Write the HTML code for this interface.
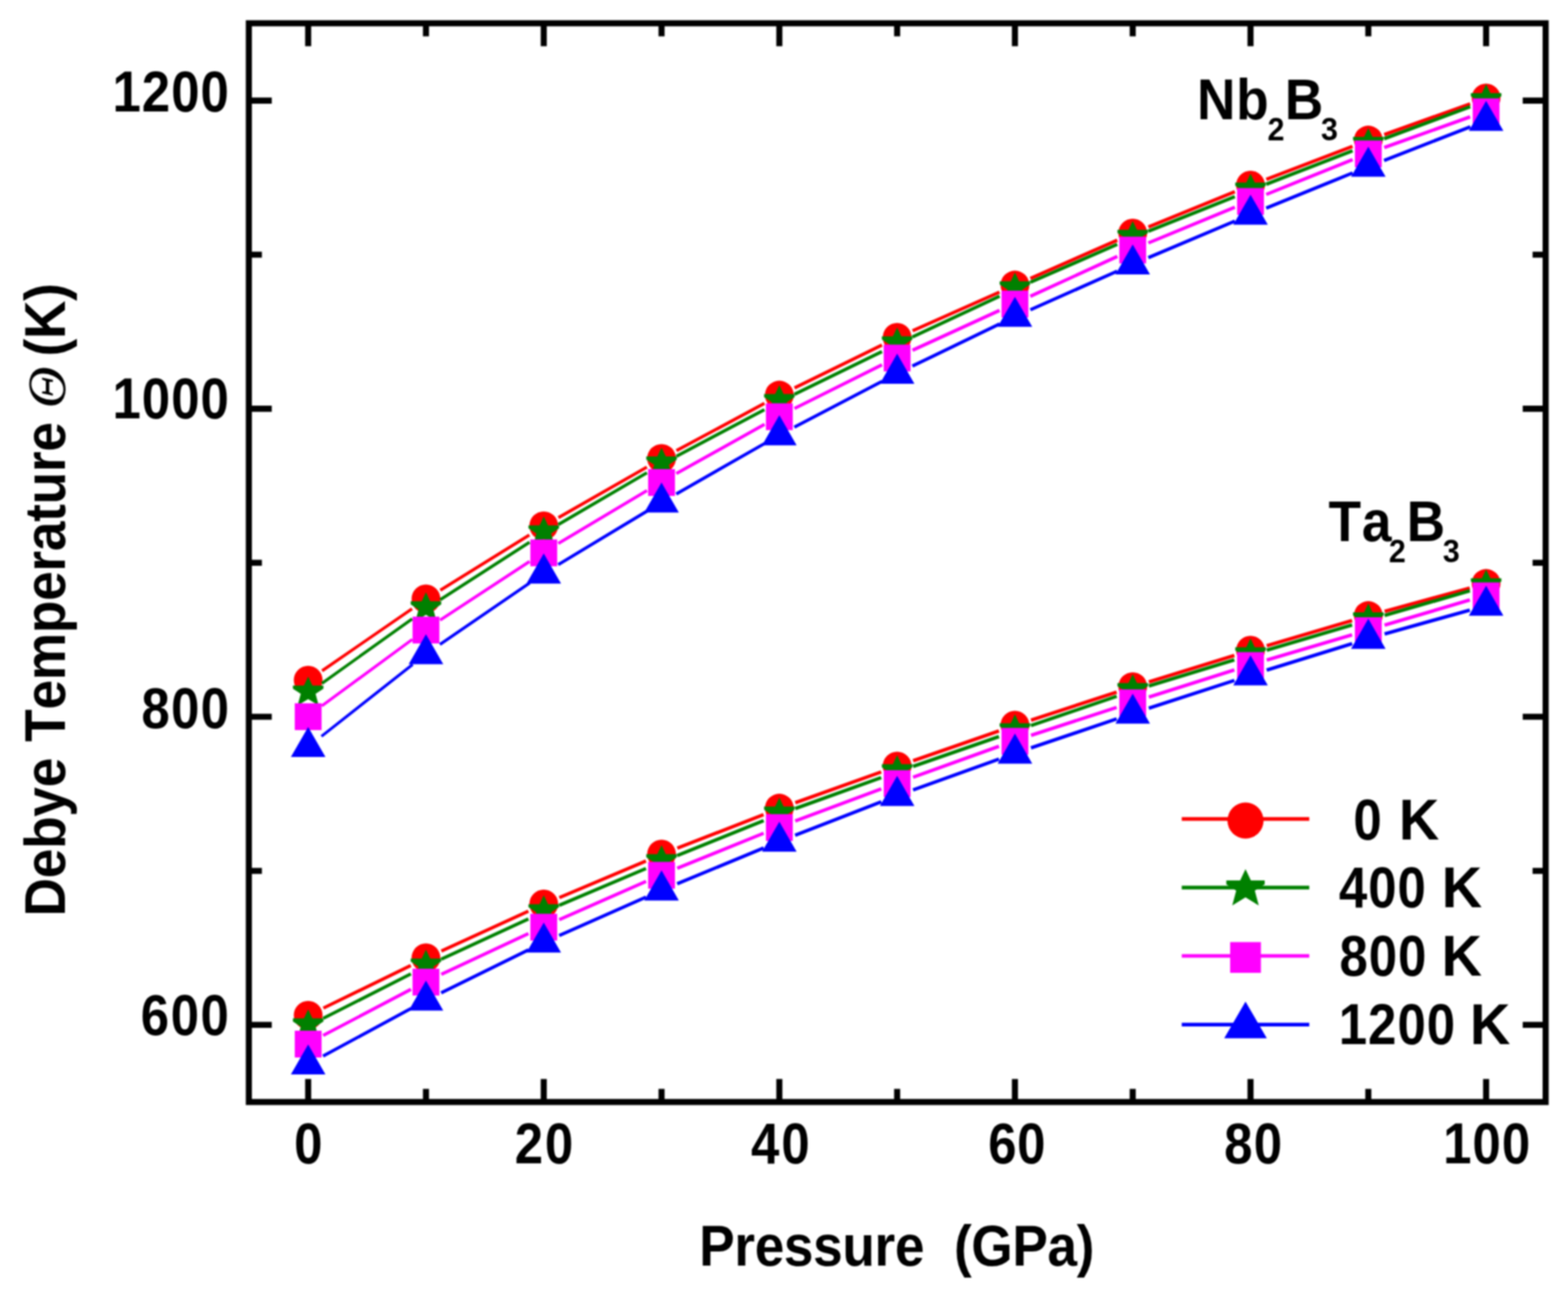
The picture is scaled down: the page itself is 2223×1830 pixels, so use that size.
<!DOCTYPE html>
<html lang="en">
<head>
<meta charset="utf-8">
<title>Debye temperature vs pressure</title>
<style>
html,body{margin:0;padding:0;background:#fff;}
body{width:2223px;height:1830px;overflow:hidden;}
svg{display:block;filter:blur(0.8px);}
</style>
</head>
<body>
<svg xmlns="http://www.w3.org/2000/svg" width="2223" height="1830" viewBox="0 0 2223 1830">
<rect width="2223" height="1830" fill="#fff"/>
<g id="plot-nb">
<g stroke="#ff0000" fill="none"><path d="M456.66 950.87L584.14 862.93" stroke-width="4.28"/><path d="M624.29 836.65L750.51 758.35" stroke-width="4.42"/><path d="M791.73 733.79L917.07 662.11" stroke-width="4.51"/><path d="M959.04 638.83L1083.76 571.77" stroke-width="4.58"/><path d="M1126.45 549.84L1250.35 489.16" stroke-width="4.67"/><path d="M1293.83 468.86L1416.97 414.14" stroke-width="4.75"/><path d="M1460.86 394.72L1583.94 340.48" stroke-width="4.76"/><path d="M1628.13 321.75L1750.67 271.85" stroke-width="4.82"/><path d="M1795.32 254.22L1917.48 207.48" stroke-width="4.86"/><path d="M1962.5 190.82L2084.3 147.28" stroke-width="4.9"/></g>
<circle cx="436.9" cy="964.1" r="20.4" fill="#ff0000"/>
<circle cx="603.9" cy="848.9" r="20.4" fill="#ff0000"/>
<circle cx="770.9" cy="745.3" r="20.4" fill="#ff0000"/>
<circle cx="937.9" cy="649.8" r="20.4" fill="#ff0000"/>
<circle cx="1104.9" cy="560" r="20.4" fill="#ff0000"/>
<circle cx="1271.9" cy="478.2" r="20.4" fill="#ff0000"/>
<circle cx="1438.9" cy="404" r="20.4" fill="#ff0000"/>
<circle cx="1605.9" cy="330.4" r="20.4" fill="#ff0000"/>
<circle cx="1772.9" cy="262.4" r="20.4" fill="#ff0000"/>
<circle cx="1939.9" cy="198.5" r="20.4" fill="#ff0000"/>
<circle cx="2106.9" cy="138.8" r="20.4" fill="#ff0000"/>
<g stroke="#ff0000" fill="none"><path d="M458.47 1428.98L582.33 1368.62" stroke-width="4.67"/><path d="M625.72 1348.12L749.08 1291.68" stroke-width="4.73"/><path d="M793.01 1272.35L915.79 1220.45" stroke-width="4.79"/><path d="M960.26 1202.37L1082.54 1154.63" stroke-width="4.84"/><path d="M1127.5 1137.82L1249.3 1094.28" stroke-width="4.9"/><path d="M1294.58 1078.34L1416.22 1036.16" stroke-width="4.91"/><path d="M1461.71 1020.84L1583.09 981.16" stroke-width="4.94"/><path d="M1628.83 966.61L1749.97 929.19" stroke-width="4.97"/><path d="M1795.92 915.32L1916.88 879.68" stroke-width="4.99"/><path d="M1963.06 866.59L2083.74 833.71" stroke-width="5.02"/></g>
<circle cx="436.9" cy="1439.1" r="20.4" fill="#ff0000"/>
<circle cx="603.9" cy="1357.7" r="20.4" fill="#ff0000"/>
<circle cx="770.9" cy="1281.3" r="20.4" fill="#ff0000"/>
<circle cx="937.9" cy="1210.7" r="20.4" fill="#ff0000"/>
<circle cx="1104.9" cy="1145.5" r="20.4" fill="#ff0000"/>
<circle cx="1271.9" cy="1085.8" r="20.4" fill="#ff0000"/>
<circle cx="1438.9" cy="1027.9" r="20.4" fill="#ff0000"/>
<circle cx="1605.9" cy="973.3" r="20.4" fill="#ff0000"/>
<circle cx="1772.9" cy="921.7" r="20.4" fill="#ff0000"/>
<circle cx="1939.9" cy="872.5" r="20.4" fill="#ff0000"/>
<circle cx="2106.9" cy="827" r="20.4" fill="#ff0000"/>
<g stroke="#008000" fill="none"><path d="M456.42 968.73L584.38 877.17" stroke-width="4.23"/><path d="M624.07 850.2L750.73 768.6" stroke-width="4.37"/><path d="M791.62 743.49L917.18 670.11" stroke-width="4.49"/><path d="M959.11 646.76L1083.69 580.74" stroke-width="4.59"/><path d="M1126.46 558.95L1250.34 498.35" stroke-width="4.67"/><path d="M1293.65 477.64L1417.15 419.96" stroke-width="4.71"/><path d="M1460.89 400.19L1583.91 346.41" stroke-width="4.76"/><path d="M1628.17 327.86L1750.63 278.74" stroke-width="4.83"/><path d="M1795.27 261.12L1917.53 213.68" stroke-width="4.85"/><path d="M1962.4 196.64L2084.4 151.26" stroke-width="4.87"/></g>
<polygon points="436.9,959.1 442.94,971.74 458.52,971.74 458.52,976.19 447.39,983.43 451.85,1000.12 436.9,990.98 421.95,1000.12 426.41,983.43 415.28,976.19 415.28,971.74 430.86,971.74" fill="#008000"/>
<polygon points="603.9,839.6 609.94,852.24 625.52,852.24 625.52,856.69 614.39,863.93 618.85,880.62 603.9,871.48 588.95,880.62 593.41,863.93 582.28,856.69 582.28,852.24 597.86,852.24" fill="#008000"/>
<polygon points="770.9,732 776.94,744.64 792.52,744.64 792.52,749.09 781.39,756.33 785.85,773.02 770.9,763.88 755.95,773.02 760.41,756.33 749.28,749.09 749.28,744.64 764.86,744.64" fill="#008000"/>
<polygon points="937.9,634.4 943.94,647.04 959.52,647.04 959.52,651.49 948.39,658.73 952.85,675.42 937.9,666.28 922.95,675.42 927.41,658.73 916.28,651.49 916.28,647.04 931.86,647.04" fill="#008000"/>
<polygon points="1104.9,545.9 1110.94,558.54 1126.52,558.54 1126.52,562.99 1115.39,570.23 1119.85,586.92 1104.9,577.78 1089.95,586.92 1094.41,570.23 1083.28,562.99 1083.28,558.54 1098.86,558.54" fill="#008000"/>
<polygon points="1271.9,464.2 1277.94,476.84 1293.52,476.84 1293.52,481.29 1282.39,488.53 1286.85,505.22 1271.9,496.08 1256.95,505.22 1261.41,488.53 1250.28,481.29 1250.28,476.84 1265.86,476.84" fill="#008000"/>
<polygon points="1438.9,386.2 1444.94,398.84 1460.52,398.84 1460.52,403.29 1449.39,410.53 1453.85,427.22 1438.9,418.08 1423.95,427.22 1428.41,410.53 1417.28,403.29 1417.28,398.84 1432.86,398.84" fill="#008000"/>
<polygon points="1605.9,313.2 1611.94,325.84 1627.52,325.84 1627.52,330.29 1616.39,337.53 1620.85,354.22 1605.9,345.08 1590.95,354.22 1595.41,337.53 1584.28,330.29 1584.28,325.84 1599.86,325.84" fill="#008000"/>
<polygon points="1772.9,246.2 1778.94,258.84 1794.52,258.84 1794.52,263.29 1783.39,270.53 1787.85,287.22 1772.9,278.08 1757.95,287.22 1762.41,270.53 1751.28,263.29 1751.28,258.84 1766.86,258.84" fill="#008000"/>
<polygon points="1939.9,181.4 1945.94,194.04 1961.52,194.04 1961.52,198.49 1950.39,205.73 1954.85,222.42 1939.9,213.28 1924.95,222.42 1929.41,205.73 1918.28,198.49 1918.28,194.04 1933.86,194.04" fill="#008000"/>
<polygon points="2106.9,119.3 2112.94,131.94 2128.52,131.94 2128.52,136.39 2117.39,143.63 2121.85,160.32 2106.9,151.18 2091.95,160.32 2096.41,143.63 2085.28,136.39 2085.28,131.94 2100.86,131.94" fill="#008000"/>
<g stroke="#008000" fill="none"><path d="M458.3 1443.53L582.5 1380.47" stroke-width="4.64"/><path d="M625.69 1359.55L749.11 1302.65" stroke-width="4.72"/><path d="M792.99 1283.22L915.81 1231.08" stroke-width="4.79"/><path d="M960.15 1212.71L1082.65 1163.19" stroke-width="4.82"/><path d="M1127.49 1146.09L1249.31 1102.31" stroke-width="4.89"/><path d="M1294.57 1086.33L1416.23 1044.07" stroke-width="4.91"/><path d="M1461.62 1028.46L1583.18 987.04" stroke-width="4.92"/><path d="M1628.86 972.3L1749.94 935.4" stroke-width="4.97"/><path d="M1795.91 921.59L1916.89 885.81" stroke-width="4.99"/><path d="M1962.96 872.34L2083.84 837.46" stroke-width="5"/></g>
<polygon points="436.9,1430.8 442.94,1443.44 458.52,1443.44 458.52,1447.89 447.39,1455.13 451.85,1471.82 436.9,1462.68 421.95,1471.82 426.41,1455.13 415.28,1447.89 415.28,1443.44 430.86,1443.44" fill="#008000"/>
<polygon points="603.9,1346 609.94,1358.64 625.52,1358.64 625.52,1363.09 614.39,1370.33 618.85,1387.02 603.9,1377.88 588.95,1387.02 593.41,1370.33 582.28,1363.09 582.28,1358.64 597.86,1358.64" fill="#008000"/>
<polygon points="770.9,1269 776.94,1281.64 792.52,1281.64 792.52,1286.09 781.39,1293.33 785.85,1310.02 770.9,1300.88 755.95,1310.02 760.41,1293.33 749.28,1286.09 749.28,1281.64 764.86,1281.64" fill="#008000"/>
<polygon points="937.9,1198.1 943.94,1210.74 959.52,1210.74 959.52,1215.19 948.39,1222.43 952.85,1239.12 937.9,1229.98 922.95,1239.12 927.41,1222.43 916.28,1215.19 916.28,1210.74 931.86,1210.74" fill="#008000"/>
<polygon points="1104.9,1130.6 1110.94,1143.24 1126.52,1143.24 1126.52,1147.69 1115.39,1154.93 1119.85,1171.62 1104.9,1162.48 1089.95,1171.62 1094.41,1154.93 1083.28,1147.69 1083.28,1143.24 1098.86,1143.24" fill="#008000"/>
<polygon points="1271.9,1070.6 1277.94,1083.24 1293.52,1083.24 1293.52,1087.69 1282.39,1094.93 1286.85,1111.62 1271.9,1102.48 1256.95,1111.62 1261.41,1094.93 1250.28,1087.69 1250.28,1083.24 1265.86,1083.24" fill="#008000"/>
<polygon points="1438.9,1012.6 1444.94,1025.24 1460.52,1025.24 1460.52,1029.69 1449.39,1036.93 1453.85,1053.62 1438.9,1044.48 1423.95,1053.62 1428.41,1036.93 1417.28,1029.69 1417.28,1025.24 1432.86,1025.24" fill="#008000"/>
<polygon points="1605.9,955.7 1611.94,968.34 1627.52,968.34 1627.52,972.79 1616.39,980.03 1620.85,996.72 1605.9,987.58 1590.95,996.72 1595.41,980.03 1584.28,972.79 1584.28,968.34 1599.86,968.34" fill="#008000"/>
<polygon points="1772.9,904.8 1778.94,917.44 1794.52,917.44 1794.52,921.89 1783.39,929.13 1787.85,945.82 1772.9,936.68 1757.95,945.82 1762.41,929.13 1751.28,921.89 1751.28,917.44 1766.86,917.44" fill="#008000"/>
<polygon points="1939.9,855.4 1945.94,868.04 1961.52,868.04 1961.52,872.49 1950.39,879.73 1954.85,896.42 1939.9,887.28 1924.95,896.42 1929.41,879.73 1918.28,872.49 1918.28,868.04 1933.86,868.04" fill="#008000"/>
<polygon points="2106.9,807.2 2112.94,819.84 2128.52,819.84 2128.52,824.29 2117.39,831.53 2121.85,848.22 2106.9,839.08 2091.95,848.22 2096.41,831.53 2085.28,824.29 2085.28,819.84 2100.86,819.84" fill="#008000"/>
<g stroke="#ff00ff" fill="none"><path d="M456.24 1000.68L584.56 906.32" stroke-width="4.19"/><path d="M623.98 878.95L750.82 795.85" stroke-width="4.35"/><path d="M791.51 770.4L917.29 695.3" stroke-width="4.46"/><path d="M958.85 671.29L1083.95 601.41" stroke-width="4.54"/><path d="M1126.38 579L1250.42 517.2" stroke-width="4.65"/><path d="M1293.72 496.5L1417.08 440" stroke-width="4.73"/><path d="M1460.72 420L1584.08 363.5" stroke-width="4.73"/><path d="M1628.09 344.35L1750.71 293.75" stroke-width="4.81"/><path d="M1795.16 275.62L1917.64 226.18" stroke-width="4.82"/><path d="M1962.5 209.12L2084.3 165.58" stroke-width="4.9"/></g>
<rect x="417.9" y="996.9" width="38" height="38" fill="#ff00ff"/>
<rect x="584.9" y="874.1" width="38" height="38" fill="#ff00ff"/>
<rect x="751.9" y="764.7" width="38" height="38" fill="#ff00ff"/>
<rect x="918.9" y="665" width="38" height="38" fill="#ff00ff"/>
<rect x="1085.9" y="571.7" width="38" height="38" fill="#ff00ff"/>
<rect x="1252.9" y="488.5" width="38" height="38" fill="#ff00ff"/>
<rect x="1419.9" y="412" width="38" height="38" fill="#ff00ff"/>
<rect x="1586.9" y="335.5" width="38" height="38" fill="#ff00ff"/>
<rect x="1753.9" y="266.6" width="38" height="38" fill="#ff00ff"/>
<rect x="1920.9" y="199.2" width="38" height="38" fill="#ff00ff"/>
<rect x="2087.9" y="139.5" width="38" height="38" fill="#ff00ff"/>
<g stroke="#ff00ff" fill="none"><path d="M458.14 1467.83L582.66 1402.37" stroke-width="4.6"/><path d="M625.65 1381.05L749.15 1323.45" stroke-width="4.71"/><path d="M792.86 1303.62L915.94 1249.38" stroke-width="4.76"/><path d="M960.15 1230.69L1082.65 1181.11" stroke-width="4.82"/><path d="M1127.39 1163.71L1249.41 1118.19" stroke-width="4.87"/><path d="M1294.49 1101.69L1416.31 1057.91" stroke-width="4.89"/><path d="M1461.72 1042.35L1583.08 1002.75" stroke-width="4.94"/><path d="M1628.78 988.05L1750.02 949.65" stroke-width="4.96"/><path d="M1795.91 935.59L1916.89 899.81" stroke-width="4.99"/><path d="M1962.91 886.19L2083.89 850.41" stroke-width="4.99"/></g>
<rect x="417.9" y="1461" width="38" height="38" fill="#ff00ff"/>
<rect x="584.9" y="1373.2" width="38" height="38" fill="#ff00ff"/>
<rect x="751.9" y="1295.3" width="38" height="38" fill="#ff00ff"/>
<rect x="918.9" y="1221.7" width="38" height="38" fill="#ff00ff"/>
<rect x="1085.9" y="1154.1" width="38" height="38" fill="#ff00ff"/>
<rect x="1252.9" y="1091.8" width="38" height="38" fill="#ff00ff"/>
<rect x="1419.9" y="1031.8" width="38" height="38" fill="#ff00ff"/>
<rect x="1586.9" y="977.3" width="38" height="38" fill="#ff00ff"/>
<rect x="1753.9" y="924.4" width="38" height="38" fill="#ff00ff"/>
<rect x="1920.9" y="875" width="38" height="38" fill="#ff00ff"/>
<rect x="2087.9" y="825.6" width="38" height="38" fill="#ff00ff"/>
<g stroke="#0000ff" fill="none"><path d="M455.75 1043.75L585.05 941.85" stroke-width="4.08"/><path d="M623.71 913.44L751.09 826.26" stroke-width="4.29"/><path d="M791.46 800.32L917.34 724.48" stroke-width="4.45"/><path d="M958.74 700.2L1084.06 628.6" stroke-width="4.52"/><path d="M1126.17 605.58L1250.63 540.52" stroke-width="4.61"/><path d="M1293.51 518.97L1417.29 459.23" stroke-width="4.68"/><path d="M1460.83 439.06L1583.97 384.34" stroke-width="4.75"/><path d="M1628.01 365.25L1750.79 313.35" stroke-width="4.79"/><path d="M1795.13 294.96L1917.67 245.14" stroke-width="4.82"/><path d="M1962.26 227.38L2084.54 179.72" stroke-width="4.84"/></g>
<polygon points="412.4,1073.1 461.4,1073.1 436.9,1030.5" fill="#0000ff"/>
<polygon points="579.4,941.5 628.4,941.5 603.9,898.9" fill="#0000ff"/>
<polygon points="746.4,827.2 795.4,827.2 770.9,784.6" fill="#0000ff"/>
<polygon points="913.4,726.6 962.4,726.6 937.9,684" fill="#0000ff"/>
<polygon points="1080.4,631.2 1129.4,631.2 1104.9,588.6" fill="#0000ff"/>
<polygon points="1247.4,543.9 1296.4,543.9 1271.9,501.3" fill="#0000ff"/>
<polygon points="1414.4,463.3 1463.4,463.3 1438.9,420.7" fill="#0000ff"/>
<polygon points="1581.4,389.1 1630.4,389.1 1605.9,346.5" fill="#0000ff"/>
<polygon points="1748.4,318.5 1797.4,318.5 1772.9,275.9" fill="#0000ff"/>
<polygon points="1915.4,250.6 1964.4,250.6 1939.9,208" fill="#0000ff"/>
<polygon points="2082.4,185.5 2131.4,185.5 2106.9,142.9" fill="#0000ff"/>
<g stroke="#0000ff" fill="none"><path d="M458 1497.07L582.8 1429.43" stroke-width="4.57"/><path d="M625.43 1407.4L749.37 1346.4" stroke-width="4.67"/><path d="M792.85 1326.09L915.95 1271.61" stroke-width="4.76"/><path d="M960.08 1252.72L1082.72 1201.98" stroke-width="4.8"/><path d="M1127.27 1184.11L1249.53 1136.59" stroke-width="4.85"/><path d="M1294.49 1119.79L1416.31 1076.01" stroke-width="4.89"/><path d="M1461.63 1060.2L1583.17 1019" stroke-width="4.92"/><path d="M1628.73 1003.89L1750.07 964.51" stroke-width="4.95"/><path d="M1795.82 949.98L1916.98 912.32" stroke-width="4.97"/><path d="M1963.01 898.71L2083.79 864.79" stroke-width="5.01"/></g>
<polygon points="412.4,1523 461.4,1523 436.9,1480.4" fill="#0000ff"/>
<polygon points="579.4,1432.5 628.4,1432.5 603.9,1389.9" fill="#0000ff"/>
<polygon points="746.4,1350.3 795.4,1350.3 770.9,1307.7" fill="#0000ff"/>
<polygon points="913.4,1276.4 962.4,1276.4 937.9,1233.8" fill="#0000ff"/>
<polygon points="1080.4,1207.3 1129.4,1207.3 1104.9,1164.7" fill="#0000ff"/>
<polygon points="1247.4,1142.4 1296.4,1142.4 1271.9,1099.8" fill="#0000ff"/>
<polygon points="1414.4,1082.4 1463.4,1082.4 1438.9,1039.8" fill="#0000ff"/>
<polygon points="1581.4,1025.8 1630.4,1025.8 1605.9,983.2" fill="#0000ff"/>
<polygon points="1748.4,971.6 1797.4,971.6 1772.9,929" fill="#0000ff"/>
<polygon points="1915.4,919.7 1964.4,919.7 1939.9,877.1" fill="#0000ff"/>
<polygon points="2082.4,872.8 2131.4,872.8 2106.9,830.2" fill="#0000ff"/>
</g>
<g stroke="#000" stroke-width="8.6" fill="none">
<rect x="352.8" y="33" width="1838.5" height="1529.1"/>
<path d="M436.9 33V65.5M436.9 1562.1V1529.6M603.9 33V51.5M603.9 1562.1V1543.6M770.9 33V65.5M770.9 1562.1V1529.6M937.9 33V51.5M937.9 1562.1V1543.6M1104.9 33V65.5M1104.9 1562.1V1529.6M1271.9 33V51.5M1271.9 1562.1V1543.6M1438.9 33V65.5M1438.9 1562.1V1529.6M1605.9 33V51.5M1605.9 1562.1V1543.6M1772.9 33V65.5M1772.9 1562.1V1529.6M1939.9 33V51.5M1939.9 1562.1V1543.6M2106.9 33V65.5M2106.9 1562.1V1529.6M352.8 1452.8H385.3M2191.3 1452.8H2158.8M352.8 1234.43H371.3M2191.3 1234.43H2172.8M352.8 1016.07H385.3M2191.3 1016.07H2158.8M352.8 797.7H371.3M2191.3 797.7H2172.8M352.8 579.33H385.3M2191.3 579.33H2158.8M352.8 360.97H371.3M2191.3 360.97H2172.8M352.8 142.6H385.3M2191.3 142.6H2158.8" stroke-width="8.6"/>
</g>
<g id="legend">
<path d="M1675.4 1160.8H1856.2" stroke="#ff0000" stroke-width="5.2"/>
<circle cx="1765.8" cy="1163.2" r="25.6" fill="#ff0000"/>
<path d="M1675.4 1258.2H1856.2" stroke="#008000" stroke-width="5.2"/>
<polygon points="1765.8,1232 1773.4,1247.9 1793,1247.9 1793,1253.5 1779,1262.6 1784.6,1283.6 1765.8,1272.1 1747,1283.6 1752.6,1262.6 1738.6,1253.5 1738.6,1247.9 1758.2,1247.9" fill="#008000"/>
<path d="M1675.4 1355H1856.2" stroke="#ff00ff" stroke-width="5.2"/>
<rect x="1744" y="1335.4" width="43.6" height="43.6" fill="#ff00ff"/>
<path d="M1675.4 1452.4H1856.2" stroke="#0000ff" stroke-width="5.2"/>
<polygon points="1735.6,1471.7 1796,1471.7 1765.8,1419.7" fill="#0000ff"/>
</g>
<g id="labels" font-family="'Liberation Sans',Arial,Helvetica,sans-serif" font-weight="bold" fill="#000" style="font-kerning:none">
<text transform="translate(159.6 158.4) scale(0.89 1)" font-size="81.2" letter-spacing="1.5" word-spacing="0" xml:space="preserve">1200</text>
<text transform="translate(159.6 593.2) scale(0.89 1)" font-size="81.2" letter-spacing="1.5" word-spacing="0" xml:space="preserve">1000</text>
<text transform="translate(200.6 1032.4) scale(0.89 1)" font-size="81.2" letter-spacing="1.95" word-spacing="0" xml:space="preserve">800</text>
<text transform="translate(199.6 1467) scale(0.89 1)" font-size="81.2" letter-spacing="2.4" word-spacing="0" xml:space="preserve">600</text>
<text transform="translate(417 1648.7) scale(0.89 1)" font-size="81.2" letter-spacing="1.5" word-spacing="0" xml:space="preserve">0</text>
<text transform="translate(729.7 1648.7) scale(0.89 1)" font-size="81.2" letter-spacing="2.83" word-spacing="0" xml:space="preserve">20</text>
<text transform="translate(1064.7 1648.7) scale(0.89 1)" font-size="81.2" letter-spacing="3.32" word-spacing="0" xml:space="preserve">40</text>
<text transform="translate(1401 1648.7) scale(0.89 1)" font-size="81.2" letter-spacing="1.05" word-spacing="0" xml:space="preserve">60</text>
<text transform="translate(1735.5 1648.7) scale(0.89 1)" font-size="81.2" letter-spacing="1.95" word-spacing="0" xml:space="preserve">80</text>
<text transform="translate(2046.1 1648.7) scale(0.89 1)" font-size="81.2" letter-spacing="1.5" word-spacing="0" xml:space="preserve">100</text>
<text transform="translate(991.2 1793.8) scale(0.93 1)" font-size="81.2" letter-spacing="-0.57" word-spacing="0.77" xml:space="preserve">Pressure  (GPa)</text>
<text transform="translate(1895.7 1189.9) scale(0.89 1)" font-size="81.2" letter-spacing="1.5" word-spacing="1.8" xml:space="preserve"> 0 <tspan textLength="66" lengthAdjust="spacingAndGlyphs">K</tspan></text>
<text transform="translate(1898.3 1285.9) scale(0.89 1)" font-size="81.2" letter-spacing="1.5" word-spacing="-0.45" xml:space="preserve">400 <tspan textLength="66" lengthAdjust="spacingAndGlyphs">K</tspan></text>
<text transform="translate(1898.9 1383.3) scale(0.89 1)" font-size="81.2" letter-spacing="1.5" word-spacing="-1.36" xml:space="preserve">800 <tspan textLength="66" lengthAdjust="spacingAndGlyphs">K</tspan></text>
<text transform="translate(1898.1 1480.1) scale(0.89 1)" font-size="81.2" letter-spacing="1.5" word-spacing="-1.81" xml:space="preserve">1200 <tspan textLength="66" lengthAdjust="spacingAndGlyphs">K</tspan></text>
<text transform="translate(0 168.5) scale(0.93 1)" letter-spacing="1.18"><tspan x="1824.73" y="0" font-size="81.2">Nb</tspan><tspan x="1932.37" y="30.2" font-size="46.5">2</tspan><tspan x="1958.49" y="0" font-size="81.2">B</tspan><tspan x="2013.76" y="30.2" font-size="46.5">3</tspan></text>
<text transform="translate(0 766.7) scale(0.93 1)" letter-spacing="1.36"><tspan x="2025.16" y="0" font-size="81.2">Ta</tspan><tspan x="2117.31" y="29.8" font-size="46.5">2</tspan><tspan x="2144.3" y="0" font-size="81.2">B</tspan><tspan x="2199.46" y="29.8" font-size="46.5">3</tspan></text>
<text transform="translate(92 1299) rotate(-90) scale(0.93 1)" font-size="81.2" letter-spacing="-0.45" word-spacing="2.7" xml:space="preserve">Debye Temperature <tspan font-family="'Liberation Serif','DejaVu Serif',serif" font-style="italic" font-weight="normal" font-size="76" dx="-3.5" dy="0" letter-spacing="0" textLength="64" lengthAdjust="spacingAndGlyphs">Θ</tspan><tspan dx="-9.6" dy="0"> (K)</tspan></text>
</g>
</svg>
</body>
</html>
